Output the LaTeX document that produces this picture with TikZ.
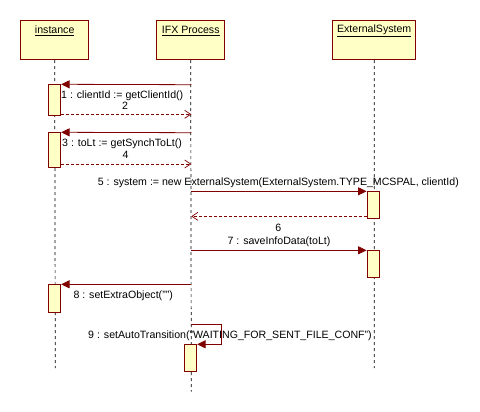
\documentclass[tikz,border=0pt]{standalone}
\usepackage{fontspec}
\setmainfont{Liberation Sans}
\usetikzlibrary{arrows.meta}
\definecolor{umlred}{HTML}{800000}
\definecolor{umlfill}{HTML}{FFFFC6}
\tikzset{
  hdr/.style={draw=umlred, fill=umlfill, line width=0.8pt, minimum height=39pt, anchor=north west, inner sep=0pt},
  actbox/.style={draw=umlred, fill=umlfill, line width=0.8pt, minimum width=12.4pt, anchor=north, inner sep=0pt},
  life/.style={dash pattern=on 3pt off 3pt, line width=0.7pt},
  msg/.style={draw=umlred, line width=0.8pt, -{Triangle[length=8.5pt,width=8pt]}},
  ret/.style={draw=umlred, line width=0.7pt, dash pattern=on 3pt off 2pt, -{Straight Barb[length=6pt,width=8pt]}},
  lbl/.style={font=\fontsize{10.6}{12}\selectfont, inner sep=0pt},
  hlbl/.style={lbl, anchor=center, yshift=-10.7pt}
}
\begin{document}
\begin{tikzpicture}[x=1pt,y=-1pt]
\useasboundingbox (0,0) rectangle (480,412);
\fill[white] (0,0) rectangle (480,412);
% headers
\node[hdr, minimum width=68pt, label={[hlbl]north:\underline{instance}}] (hI) at (20.3,20.3) {};
\node[hdr, minimum width=68pt, label={[hlbl]north:\underline{IFX Process}}] (hP) at (156.3,20.3) {};
\node[hdr, minimum width=83pt, label={[hlbl]north:\underline{ExternalSystem}}] (hE) at (332.3,20.3) {};
% lifeline ends
\coordinate (eI) at (55.3,368);
\coordinate (eP) at (191.3,391.7);
\coordinate (eE) at (374.3,368);
\draw[life] (hI.south) -- (eI);
\draw[life] (hP.south) -- (eP);
\draw[life] (hE.south) -- (eE);
% activations
\node[actbox, minimum height=31pt] (a1) at (54.5,84.3) {};
\node[actbox, minimum height=35pt] (a2) at (54.5,132.3) {};
\node[actbox, minimum height=27pt] (a3) at (373.2,191.3) {};
\node[actbox, minimum height=27pt] (a4) at (373.2,250.3) {};
\node[actbox, minimum height=27.4pt] (a5) at (54.5,284.3) {};
\node[actbox, minimum height=27pt] (a6) at (190.5,344.3) {};
% message coordinates on IFX lifeline
\coordinate (p1) at (191.3,84.7);
\coordinate (p2) at (191.3,114.3);
\coordinate (p3) at (191.3,132.7);
\coordinate (p4) at (191.3,164);
\coordinate (p5) at (191.3,191.3);
\coordinate (p6) at (191.3,216.3);
\coordinate (p7) at (191.3,250.3);
\coordinate (p8) at (191.3,284.3);
\coordinate (p9) at (191.3,324.3);
\coordinate (s1) at (221.3,324.3);
\coordinate (s2) at (221.3,344.3);
% messages
\draw[msg] (p1) -- (a1.north east);
\draw[ret] (a1.east |- p2) -- (p2);
\draw[msg] (p3) -- (a2.north east);
\draw[ret] (a2.east |- p4) -- (p4);
\draw[msg] (p5) -- (a3.north west);
\draw[ret] (a3.west |- p6) -- (p6);
\draw[msg] (p7) -- (a4.north west);
\draw[msg] (p8) -- (a5.north east);
\draw[msg] (p9) -- (s1) -- (s2) -- (a6.north east);
% labels
\node[lbl, anchor=west] (l1) at (61,95.5) {1 : clientId := getClientId()};
\node[lbl] (l2) at (125,105.5) {2};
\node[lbl, anchor=west] (l3) at (62,143.5) {3 : toLt := getSynchToLt()};
\node[lbl] (l4) at (125.5,154.5) {4};
\node[lbl] (l5) at (278.3,182.5) {5 : system := new ExternalSystem(ExternalSystem.TYPE\_MCSPAL, clientId)};
\node[lbl] (l6) at (278.3,227.5) {6};
\node[lbl] (l7) at (279,241.5) {7 : saveInfoData(toLt)};
\node[lbl, anchor=west] (l8) at (73.3,295.5) {8 : setExtraObject("")};
\node[lbl] (l9) at (230,335.5) {9 : setAutoTransition("WAITING\_FOR\_SENT\_FILE\_CONF")};
\end{tikzpicture}
\end{document}
